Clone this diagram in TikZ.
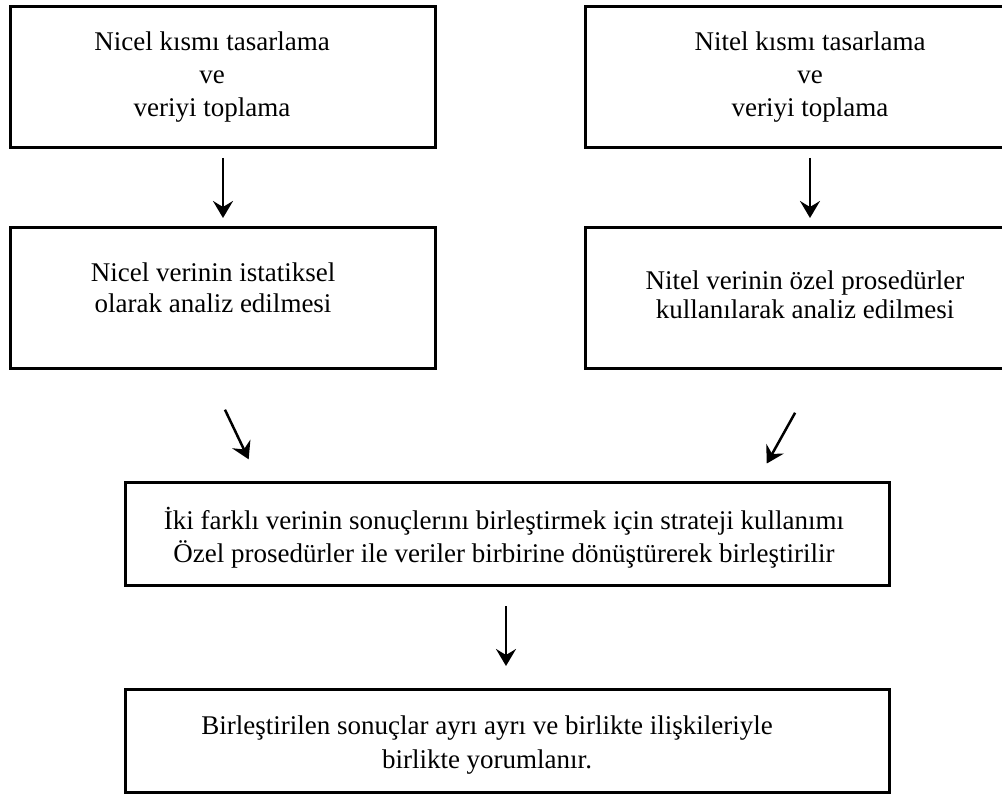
\documentclass[tikz,border=0pt]{standalone}
\usepackage{fontspec}
\setmainfont{Liberation Serif}
\usetikzlibrary{arrows.meta}
\begin{document}
\begin{tikzpicture}[x=1pt,y=-1pt,
  box/.style={draw=black, line width=3pt, rectangle, inner sep=0pt, fill=white},
  topbox/.style={box, minimum width=425pt, minimum height=141pt},
  rbox/.style={box, minimum width=449pt, minimum height=141pt},
  lowbox/.style={box, minimum width=764pt, minimum height=103pt},
  txt/.style={align=center, inner sep=0pt, font={\fontsize{27}{33}\selectfont}},
  arr/.style={line width=2.5pt, -{Stealth[length=17pt,width=20pt,inset=6pt]}}]
\path[use as bounding box, clip] (0,0) rectangle (1002,797);
\fill[white] (0,0) rectangle (1002,797);

\node[topbox] (b1) at (223,77) {};
\node[rbox]   (b2) at (810,77) {};
\node[topbox] (b3) at (223,298) {};
\node[rbox]   (b4) at (810,298) {};
\node[lowbox] (b5) at (507.5,534) {};
\node[lowbox] (b6) at (507.5,741) {};

\node[txt] (t1) at (212,77) {Nicel kısmı tasarlama\\ve\\veriyi toplama};
\node[txt] (t2) at (810,77) {Nitel kısmı tasarlama\\ve\\veriyi toplama};
\node[txt, font={\fontsize{27}{31}\selectfont}] (t3) at (213,288) {Nicel verinin istatiksel\\olarak analiz edilmesi};
\node[txt, font={\fontsize{27}{29}\selectfont}] (t4) at (805,295) {Nitel verinin özel prosedürler\\kullanılarak analiz edilmesi};
\node[txt] (t5) at (504,538) {İki farklı verinin sonuçlerını birleştirmek için strateji kullanımı\\Özel prosedürler ile veriler birbirine dönüştürerek birleştirilir};
\node[txt, font={\fontsize{27}{34}\selectfont}] (t6) at (487,745) {Birleştirilen sonuçlar ayrı ayrı ve birlikte ilişkileriyle\\birlikte yorumlanır.};

\draw[arr, shorten <=9pt, shorten >=8pt] (b1.south) -- (b3.north);
\draw[arr, shorten <=9pt, shorten >=8pt] (b2.south) -- (b4.north);
\draw[arr, shorten <=44pt, shorten >=24pt] ([xshift=-17pt]b3.south) -- ([xshift=-248.5pt]b5.north);
\draw[arr, shorten <=49pt, shorten >=20pt] ([xshift=9pt]b4.south) -- ([xshift=249.5pt]b5.north);
\draw[arr, shorten <=19pt, shorten >=22pt] ([xshift=-1.5pt]b5.south) -- ([xshift=-1.5pt]b6.north);
\end{tikzpicture}
\end{document}
